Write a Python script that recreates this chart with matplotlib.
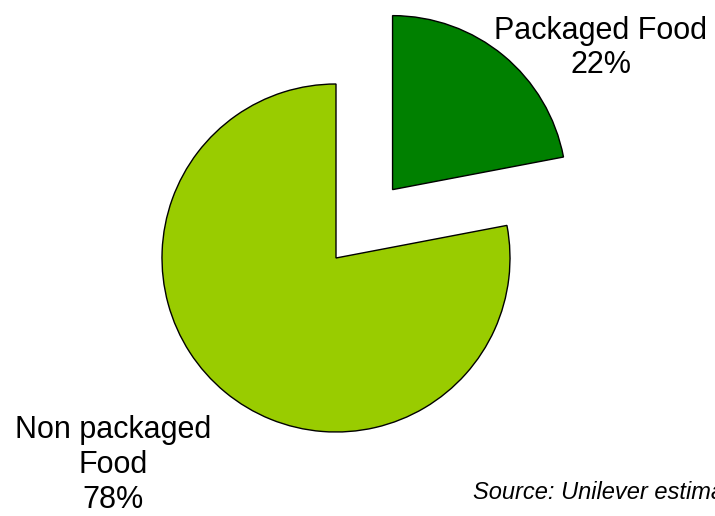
import matplotlib
matplotlib.use('Agg')
import matplotlib.pyplot as plt

# market split
labels = ['Packaged Food', 'Non packaged\nFood']
shares = [22, 78]
colors = ['#008000', '#99cc00']
explode_frac = [0.51, 0.0]

plt.rcParams['font.family'] = ['Liberation Sans', 'DejaVu Sans']

W, H = 715, 516
fig = plt.figure(figsize=(W / 100, H / 100), dpi=100)
ax = fig.add_axes([0, 0, 1, 1])

# work in pixel units so the pie sits where we want it
cx, cy, r = 336, 258, 174
ax.pie(shares, colors=colors, startangle=90, counterclock=False,
       center=(cx, cy), radius=r,
       explode=[e * r for e in explode_frac],
       wedgeprops=dict(edgecolor='black', linewidth=1.0))

ax.set_xlim(0, W)
ax.set_ylim(0, H)
ax.set_aspect('equal')
ax.axis('off')

ax.text(601, 468, '%s\n%d%%' % (labels[0], shares[0]), ha='center', va='center',
        fontsize=22, linespacing=1.2)
ax.text(113, 51, '%s\n%d%%' % (labels[1], shares[1]), ha='center', va='center',
        fontsize=22, linespacing=1.2)

# source note runs past the right edge of the canvas
ax.text(473, 17, 'Source: Unilever estimates', ha='left', va='baseline',
        fontsize=17, style='italic', clip_on=False)

fig.savefig('out.png', dpi=100)
